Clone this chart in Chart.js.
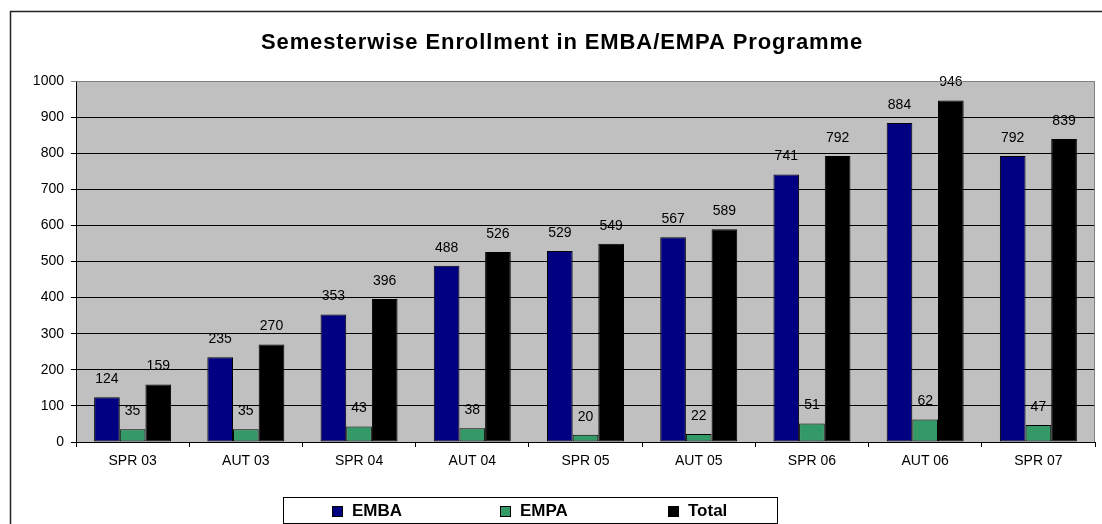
<!DOCTYPE html>
<html>
<head>
<meta charset="utf-8">
<script src="https://cdn.jsdelivr.net/npm/chart.js@4.4.1/dist/chart.umd.min.js"></script>
<style>
  html, body { margin: 0; padding: 0; background: #fff; }
  canvas { display: block; }
</style>
</head>
<body>
<canvas id="enrollChart" width="1102" height="524"></canvas>
<script>
// data
const semesters = ['SPR 03', 'AUT 03', 'SPR 04', 'AUT 04', 'SPR 05', 'AUT 05', 'SPR 06', 'AUT 06', 'SPR 07'];
const embaCounts = [124, 235, 353, 488, 529, 567, 741, 884, 792];
const empaCounts = [35, 35, 43, 38, 20, 22, 51, 62, 47];
const totalCounts = [159, 270, 396, 526, 549, 589, 792, 946, 839];
const seriesNames = ['EMBA', 'EMPA', 'Total'];
const seriesColors = ['#000080', '#339966', '#000000'];
const chartTitle = 'Semesterwise Enrollment in EMBA/EMPA Programme';

const FONT = '"Liberation Sans", Arial, Helvetica, sans-serif';
Chart.defaults.font.family = FONT;
Chart.defaults.color = '#000';

// gray plot area, outer frame, title
const plotBackground = {
    id: 'plotBackground',
    beforeDraw(chart) {
        const { ctx, chartArea: a } = chart;
        ctx.save();
        ctx.fillStyle = '#fff';
        ctx.fillRect(0, 0, chart.width, chart.height);
        ctx.strokeStyle = '#222';
        ctx.lineWidth = 1.5;
        ctx.strokeRect(10.5, 11.5, chart.width + 20, chart.height + 20);
        ctx.fillStyle = '#C0C0C0';
        ctx.fillRect(a.left, a.top, a.right - a.left, a.bottom - a.top);

        ctx.fillStyle = '#000';
        ctx.font = 'bold 22px ' + FONT;
        if ('letterSpacing' in ctx) ctx.letterSpacing = '0.9px';
        ctx.textAlign = 'center';
        ctx.textBaseline = 'middle';
        ctx.fillText(chartTitle, 562, 43);
        ctx.restore();
    },
    afterDraw(chart) {
        const { ctx, chartArea: a } = chart;
        ctx.save();
        ctx.strokeStyle = '#808080';
        ctx.lineWidth = 1;
        ctx.beginPath();
        ctx.moveTo(a.left, a.top + 0.5);
        ctx.lineTo(a.right - 0.5, a.top + 0.5);
        ctx.lineTo(a.right - 0.5, a.bottom);
        ctx.stroke();
        ctx.restore();
    }
};

// value labels above each bar
const barValues = {
    id: 'barValues',
    afterDatasetsDraw(chart) {
        const { ctx } = chart;
        ctx.save();
        ctx.font = '14px ' + FONT;
        ctx.fillStyle = '#000';
        ctx.textAlign = 'center';
        ctx.textBaseline = 'middle';
        chart.data.datasets.forEach((ds, i) => {
            chart.getDatasetMeta(i).data.forEach((bar, j) => {
                ctx.fillText(String(ds.data[j]), bar.x, bar.y - 18);
            });
        });
        ctx.restore();
    }
};

// boxed legend at the bottom
const boxLegend = {
    id: 'boxLegend',
    afterDraw(chart) {
        const { ctx } = chart;
        const box = { x: 283, y: 497, w: 494, h: 26 };
        ctx.save();
        ctx.fillStyle = '#fff';
        ctx.fillRect(box.x, box.y, box.w, box.h);
        ctx.strokeStyle = '#000';
        ctx.lineWidth = 1;
        ctx.strokeRect(box.x + 0.5, box.y + 0.5, box.w, box.h);
        ctx.font = 'bold 17px ' + FONT;
        ctx.textBaseline = 'middle';
        ctx.textAlign = 'left';
        chart.data.datasets.forEach((ds, i) => {
            const sx = box.x + 49 + i * 168;
            const sy = box.y + 9;
            ctx.fillStyle = ds.backgroundColor;
            ctx.fillRect(sx, sy, 11, 11);
            ctx.strokeStyle = '#000';
            ctx.strokeRect(sx + 0.5, sy + 0.5, 10, 10);
            ctx.fillStyle = '#000';
            ctx.fillText(ds.label, sx + 20, box.y + 14);
        });
        ctx.restore();
    }
};

const seriesData = [embaCounts, empaCounts, totalCounts];

new Chart(document.getElementById('enrollChart'), {
    type: 'bar',
    data: {
        labels: semesters,
        datasets: seriesData.map((d, i) => ({
            label: seriesNames[i],
            data: d,
            backgroundColor: seriesColors[i],
            borderColor: '#000',
            borderWidth: 1,
            borderSkipped: false,
            categoryPercentage: 0.68,
            barPercentage: 1
        }))
    },
    options: {
        responsive: false,
        animation: false,
        layout: { padding: { left: 27, right: 7, top: 81, bottom: 0 } },
        plugins: {
            legend: { display: false },
            tooltip: { enabled: false },
            title: { display: false }
        },
        scales: {
            x: {
                grid: { offset: true, drawOnChartArea: false, drawTicks: true, tickLength: 5, color: '#000' },
                border: { color: '#000', width: 1 },
                ticks: { font: { size: 14 }, color: '#000', padding: 6, maxRotation: 0 },
                afterFit(scale) { scale.height = 82; }
            },
            y: {
                min: 0,
                max: 1000,
                grid: {
                    color: ctx => (ctx.tick && ctx.tick.value === 1000 ? '#808080' : '#000'),
                    lineWidth: 1,
                    tickLength: 5
                },
                border: { color: '#000', width: 1 },
                ticks: { stepSize: 100, font: { size: 14 }, color: '#000', padding: 7, callback: v => String(v) },
                afterFit(scale) { scale.width = 49; }
            }
        }
    },
    plugins: [plotBackground, barValues, boxLegend]
});
</script>
</body>
</html>
